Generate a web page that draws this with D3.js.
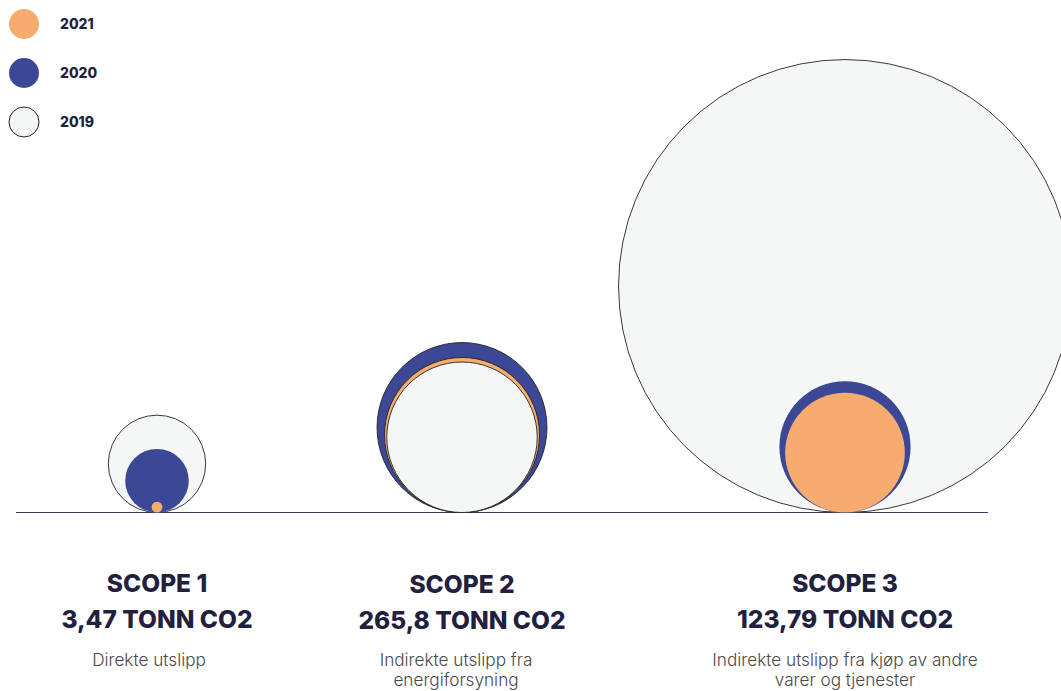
<!DOCTYPE html>
<html>
<head>
<meta charset="utf-8">
<script src="https://cdn.jsdelivr.net/npm/d3@7"></script>
<style>
  body { margin: 0; background: #fff; }
  text { font-family: Inter, "Noto Sans", sans-serif; }
</style>
</head>
<body>
<div id="chart"></div>
<script>
// categories and series
const scopes = ["SCOPE 1", "SCOPE 2", "SCOPE 3"];
const years = ["2021", "2020", "2019"];
// relative circle sizes (area), per scope
const size2019 = [82, 196, 1776];
const size2020 = [35, 250, 149];
const size2021 = [1, 208, 124];
// label texts
const totals = ["3,47 TONN CO2", "265,8 TONN CO2", "123,79 TONN CO2"];
const descriptions = [
  ["Direkte utslipp"],
  ["Indirekte utslipp fra", "energiforsyning"],
  ["Indirekte utslipp fra kjøp av andre", "varer og tjenester"],
];

const width = 1061,
  height = 691,
  baseY = 512.5;

const svg = d3
  .select("#chart")
  .append("svg")
  .attr("width", width)
  .attr("height", height);

const color = d3
  .scaleOrdinal()
  .domain(years)
  .range(["#f7ac6f", "#3c4796", "#f5f7f6"]);

const r = d3.scaleSqrt().domain([0, 1800]).range([0, 228]);

const x = d3.scaleOrdinal().domain(scopes).range([157, 462, 845]);
// small nudges of the text blocks seen in the original
const titleShift = [0, 1, 0];
const descShift = [-8, -6, 0];

// baseline
svg
  .append("line")
  .attr("x1", 16)
  .attr("x2", 988)
  .attr("y1", baseY)
  .attr("y2", baseY)
  .attr("stroke", "#3a3868")
  .attr("stroke-width", 1);

// circles, largest first so smaller ones sit on top
scopes.forEach((scope, i) => {
  const circles = [
    { year: "2019", value: size2019[i] },
    { year: "2020", value: size2020[i] },
    { year: "2021", value: size2021[i] },
  ].sort((a, b) => b.value - a.value);

  svg
    .append("g")
    .selectAll("circle")
    .data(circles)
    .enter()
    .append("circle")
    .attr("cx", x(scope))
    .attr("cy", (d) => baseY - r(d.value))
    .attr("r", (d) => r(d.value))
    .attr("fill", (d) => color(d.year))
    .attr("stroke", (d) => (d.year === "2019" || i === 1 ? "#222" : "none"))
    .attr("stroke-width", 0.9);

  const g = svg.append("g").attr("transform", `translate(${x(scope)},0)`);

  g.append("text")
    .attr("y", 592 + titleShift[i])
    .attr("text-anchor", "middle")
    .attr("font-size", 24.5)
    .attr("font-weight", 800)
    .attr("fill", "#221f3f")
    .text(scope);

  g.append("text")
    .attr("y", 628 + titleShift[i])
    .attr("text-anchor", "middle")
    .attr("font-size", 24.5)
    .attr("font-weight", 800)
    .attr("fill", "#221f3f")
    .text(totals[i]);

  g.selectAll(".desc")
    .data(descriptions[i])
    .enter()
    .append("text")
    .attr("class", "desc")
    .attr("x", descShift[i])
    .attr("y", (d, j) => 666 + j * 20)
    .attr("text-anchor", "middle")
    .attr("font-size", 17.2)
    .attr("font-weight", 300)
    .attr("fill", "#4a4a4a")
    .text((d) => d);
});

// legend
const legend = svg
  .append("g")
  .selectAll("g")
  .data(years)
  .enter()
  .append("g")
  .attr("transform", (d, i) => `translate(24,${24 + i * 49})`);

legend
  .append("circle")
  .attr("r", 15)
  .attr("fill", (d) => color(d))
  .attr("stroke", (d) => (d === "2019" ? "#222" : "none"))
  .attr("stroke-width", 1);

legend
  .append("text")
  .attr("x", 36)
  .attr("y", 5)
  .attr("font-size", 14)
  .attr("font-weight", 800)
  .attr("fill", "#221f3f")
  .text((d) => d);
</script>
</body>
</html>
